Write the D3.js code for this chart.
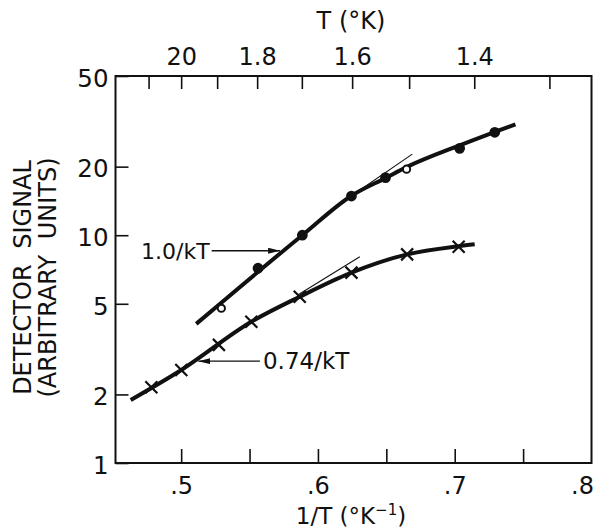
<!DOCTYPE html>
<html>
<head>
<meta charset="utf-8">
<script src="https://cdn.jsdelivr.net/npm/d3@7"></script>
<style>
  body { margin: 0; background: #fff; }
  text { font-family: "DejaVu Sans", sans-serif; fill: #111; }
</style>
</head>
<body>
<script>
var w = 595, h = 531;

// values (x = 1/T, y = detector signal)
var dotX = [0.5294, 0.5562, 0.5886, 0.6245, 0.6494, 0.6648, 0.7036, 0.7293];
var dotY = [4.78, 7.16, 10.0, 14.86, 17.9, 19.5, 24.07, 28.3];
var dotOpen = [true, false, false, false, false, true, false, false];

var crossX = [0.4782, 0.5001, 0.5276, 0.5513, 0.5867, 0.6245, 0.6652, 0.7029];
var crossY = [2.15, 2.56, 3.30, 4.17, 5.37, 6.85, 8.24, 8.90];

// hand drawn fit curves
var upperFit = [[0.511, 4.08], [0.5886, 10.0], [0.6245, 14.9], [0.65, 17.9], [0.6648, 19.9], [0.7036, 24.8], [0.7293, 28.4], [0.7444, 30.7]];
var lowerFit = [[0.4631, 1.89], [0.5001, 2.56], [0.5513, 4.17], [0.5867, 5.37], [0.6245, 6.85], [0.6652, 8.24], [0.7029, 8.95], [0.7146, 9.12]];

// thin tangent lines
var upperTangent = [[0.615, 13.6], [0.669, 22.7]];
var lowerTangent = [[0.585, 5.45], [0.6306, 8.05]];

// tick values / labels
var xTicks = [0.5, 0.55, 0.6, 0.65, 0.7, 0.75];
var xLabels = [0.5, 0.6, 0.7, 0.8];
var yTicks = [1, 2, 5, 10, 20, 50];
var tTicks = [2.1, 2.0, 1.9, 1.8, 1.7, 1.6, 1.5, 1.4, 1.3];
var tLabels = { "2": "20", "1.8": "1.8", "1.6": "1.6", "1.4": "1.4" };

var svg = d3.select("body").append("svg")
    .attr("width", w)
    .attr("height", h);

var x = d3.scaleLinear().domain([0.452, 0.8]).range([115.5, 591.5]);
var y = d3.scaleLog().domain([1, 50]).range([463, 76]);

var plotL = x.range()[0], plotR = x.range()[1], plotT = y.range()[1], plotB = y.range()[0];

// bottom ticks (inward)
svg.append("g")
    .attr("transform", "translate(0," + plotB + ")")
    .call(d3.axisBottom(x).tickValues(xTicks).tickSizeInner(-14).tickSizeOuter(0).tickFormat(""))
    .call(function(g){ g.select(".domain").remove(); })
    .selectAll("line").attr("stroke", "#111").attr("stroke-width", 1.6);

// bottom labels
svg.append("g")
    .attr("transform", "translate(0," + plotB + ")")
    .call(d3.axisBottom(x).tickValues(xLabels).tickSize(0).tickPadding(14)
        .tickFormat(function(d){ return d3.format(".1f")(d).replace(/^0/, ""); }))
    .call(function(g){
        g.select(".domain").remove();
        g.selectAll("text").attr("font-size", 24).attr("font-family", null);
        g.selectAll(".tick:last-of-type text").attr("text-anchor", "end").attr("x", 2);
    });

// top ticks in T
svg.append("g")
    .attr("transform", "translate(0," + plotT + ")")
    .call(d3.axisTop(x).tickValues(tTicks.map(function(t){ return 1 / t; }))
        .tickSizeInner(-13).tickSizeOuter(0).tickPadding(11)
        .tickFormat(function(d){ var t = +(1 / d).toFixed(1); return tLabels[String(t)] || ""; }))
    .call(function(g){
        g.select(".domain").remove();
        g.selectAll("line").attr("stroke", "#111").attr("stroke-width", 1.6);
        g.selectAll("text").attr("font-size", 24).attr("font-family", null);
    });

// left axis
svg.append("g")
    .attr("transform", "translate(" + plotL + ",0)")
    .call(d3.axisLeft(y).tickValues(yTicks).tickSizeInner(-13).tickSizeOuter(0).tickPadding(7)
        .tickFormat(d3.format("d")))
    .call(function(g){
        g.select(".domain").remove();
        g.selectAll("line").attr("stroke", "#111").attr("stroke-width", 1.6);
        g.selectAll("text").attr("font-size", 24.5).attr("font-family", null).attr("dy", "0.42em");
    });

// frame
svg.append("rect")
    .attr("x", plotL).attr("y", plotT)
    .attr("width", plotR - plotL).attr("height", plotB - plotT)
    .attr("fill", "none").attr("stroke", "#111").attr("stroke-width", 2);

var line = d3.line()
    .x(function(d){ return x(d[0]); })
    .y(function(d){ return y(d[1]); });

// tangents
[upperTangent, lowerTangent].forEach(function(t){
    svg.append("path").attr("d", line(t))
        .attr("fill", "none").attr("stroke", "#111").attr("stroke-width", 1.1);
});

// fit curves
var curve = d3.line()
    .x(function(d){ return x(d[0]); })
    .y(function(d){ return y(d[1]); })
    .curve(d3.curveMonotoneX);

[upperFit, lowerFit].forEach(function(f){
    svg.append("path").attr("d", curve(f))
        .attr("fill", "none").attr("stroke", "#111").attr("stroke-width", 4)
        .attr("stroke-linecap", "butt");
});

// dots
svg.selectAll(".dot")
    .data(dotX)
    .enter()
    .append("circle")
    .attr("class", "dot")
    .attr("cx", function(d){ return x(d); })
    .attr("cy", function(d, i){ return y(dotY[i]); })
    .attr("r", function(d, i){ return dotOpen[i] ? 3.6 : 4.4; })
    .attr("fill", function(d, i){ return dotOpen[i] ? "#fff" : "#111"; })
    .attr("stroke", "#111")
    .attr("stroke-width", 2);

// crosses
svg.selectAll(".cross")
    .data(crossX)
    .enter()
    .append("path")
    .attr("class", "cross")
    .attr("transform", function(d, i){ return "translate(" + x(d) + "," + y(crossY[i]) + ")"; })
    .attr("d", "M-6,-6L6,6M-6,6L6,-6")
    .attr("stroke", "#111")
    .attr("stroke-width", 2.2);

// arrows and labels
var defs = svg.append("defs");
defs.append("marker")
    .attr("id", "head")
    .attr("viewBox", "0 0 12 6")
    .attr("refX", 12).attr("refY", 3)
    .attr("markerWidth", 12).attr("markerHeight", 6)
    .attr("markerUnits", "userSpaceOnUse")
    .attr("orient", "auto")
    .append("path").attr("d", "M0,0L12,3L0,6Z").attr("fill", "#111");

var arrow1 = [[0.5223, 8.55], [0.5723, 8.55]];
var arrow2 = [[0.5576, 2.80], [0.5125, 2.80]];
[arrow1, arrow2].forEach(function(a){
    svg.append("path").attr("d", line(a))
        .attr("stroke", "#111").attr("stroke-width", 1.4)
        .attr("marker-end", "url(#head)");
});

svg.append("text")
    .attr("x", x(arrow1[0][0]) - 2).attr("y", y(arrow1[0][1]))
    .attr("dy", "0.36em").attr("text-anchor", "end")
    .attr("font-size", 22).text("1.0/kT");

svg.append("text")
    .attr("x", x(arrow2[0][0]) + 3).attr("y", y(arrow2[0][1]))
    .attr("dy", "0.36em").attr("text-anchor", "start")
    .attr("font-size", 23).text("0.74/kT");

// axis titles
svg.append("text")
    .attr("x", 351).attr("y", 29)
    .attr("text-anchor", "middle").attr("font-size", 24)
    .text("T (°K)");

var xt = svg.append("text")
    .attr("x", 351).attr("y", 524)
    .attr("text-anchor", "middle").attr("font-size", 23);
xt.append("tspan").text("1/T (°K");
xt.append("tspan").attr("font-size", 15).attr("dy", "-0.6em").text("−1");
xt.append("tspan").attr("dy", "0.4em").text(")");

svg.append("text")
    .attr("transform", "translate(30.5,277.5) rotate(-90)")
    .attr("text-anchor", "middle").attr("font-size", 24)
    .attr("word-spacing", 8)
    .text("DETECTOR SIGNAL");

svg.append("text")
    .attr("transform", "translate(56,277.5) rotate(-90)")
    .attr("text-anchor", "middle").attr("font-size", 24)
    .attr("word-spacing", 8)
    .text("(ARBITRARY UNITS)");
</script>
</body>
</html>
